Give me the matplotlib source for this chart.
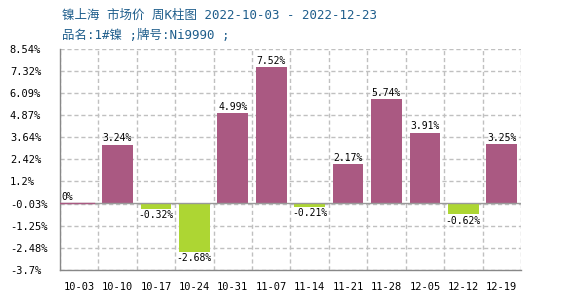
import matplotlib
matplotlib.use('Agg')
import matplotlib.pyplot as plt
import numpy as np

plt.rcParams['font.family'] = ['DejaVu Sans Mono', 'Noto Sans CJK SC']

# weekly change of Shanghai nickel price (%)
weeks = ['10-03', '10-10', '10-17', '10-24', '10-31', '11-07',
         '11-14', '11-21', '11-28', '12-05', '12-12', '12-19']
changes = [0.0, 3.24, -0.32, -2.68, 4.99, 7.52, -0.21, 2.17, 5.74, 3.91, -0.62, 3.25]
ytick_vals = [8.54, 7.32, 6.09, 4.87, 3.64, 2.42, 1.2, -0.03, -1.25, -2.48, -3.7]
ytick_labels = ['8.54%', '7.32%', '6.09%', '4.87%', '3.64%', '2.42%', '1.2%',
                '-0.03%', '-1.25%', '-2.48%', '-3.7%']

up_color = '#AA5982'
down_color = '#ADD633'

fig = plt.figure(figsize=(5.7, 3.0), dpi=100)
ax = fig.add_axes([0.105, 0.1, 0.809, 0.737])

x = np.arange(len(weeks))
colors = [up_color if v >= 0 else down_color for v in changes]
ax.bar(x, changes, width=0.8, color=colors, zorder=3)
# zero week drawn as a thin line
ax.plot([-0.5, 0.4], [0, 0], color=up_color, linewidth=1, zorder=5)

for xi, v in zip(x, changes):
    txt = f'{v:.2f}%' if v != 0 else '0%'
    if v > 0:
        ax.annotate(txt, (xi, v), xytext=(0, 1), textcoords='offset points',
                    ha='center', va='bottom', fontsize=7)
    elif v < 0:
        ax.annotate(txt, (xi, v), xytext=(0, -1), textcoords='offset points',
                    ha='center', va='top', fontsize=7)
    else:
        ax.annotate(txt, (xi - 0.5, v), xytext=(1, 1), textcoords='offset points',
                    ha='left', va='bottom', fontsize=7)

ax.axhline(0, color='#999999', linewidth=1, zorder=4)

ax.set_xlim(-0.5, len(weeks) - 0.5)
ax.set_ylim(-3.7, 8.54)
ax.set_xticks(x)
ax.set_xticklabels(weeks, fontsize=7.5)
ax.set_xticks(np.arange(len(weeks) + 1) - 0.5, minor=True)
ax.set_yticks(ytick_vals)
ax.set_yticklabels(ytick_labels, fontsize=7.5, ha='left')
ax.tick_params(axis='y', length=0, pad=36)
ax.tick_params(axis='x', which='both', length=0, pad=9)

ax.grid(True, axis='y', which='major', linestyle=(0, (3, 2)), color='#c0c0c0', linewidth=1, zorder=0)
ax.grid(True, axis='x', which='minor', linestyle=(0, (3, 2)), color='#c0c0c0', linewidth=1, zorder=0)
ax.grid(False, axis='x', which='major')

for s in ['top', 'right']:
    ax.spines[s].set_visible(False)
for s in ['left', 'bottom']:
    ax.spines[s].set_color('#888888')
    ax.spines[s].set_linewidth(1)

title_color = '#1F5E8C'
fig.text(62 / 570, 1 - 15 / 300, '镍上海 市场价 周K柱图 2022-10-03 - 2022-12-23',
         fontsize=9, color=title_color, va='center', ha='left')
fig.text(62 / 570, 1 - 35 / 300, '品名:1#镍 ;牌号:Ni9990 ;',
         fontsize=9, color=title_color, va='center', ha='left')

fig.savefig('out.png', dpi=100, facecolor='white')
